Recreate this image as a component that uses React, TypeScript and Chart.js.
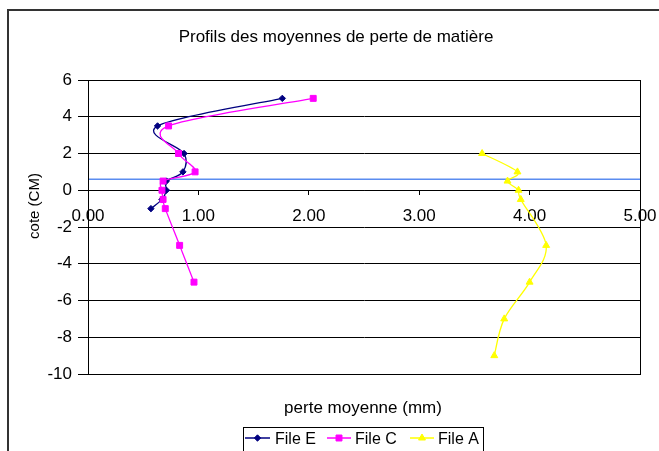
import React, { useEffect, useRef } from 'react';
import { Chart, registerables } from 'chart.js';

Chart.register(...registerables);

const titleText = 'Profils des moyennes de perte de matière';
const xAxisTitle = 'perte moyenne (mm)';
const yAxisTitle = 'cote (CM)';
const seriesNames = ['File E', 'File C', 'File A'];
const seriesColors = ['#000080', '#FF00FF', '#FFFF00'];

const fileE_x = [1.76, 0.63, 0.87, 0.86, 0.71, 0.71, 0.67, 0.57];
const fileE_y = [5, 3.5, 2, 1, 0.5, 0, -0.5, -1];
const fileC_x = [2.04, 0.73, 0.82, 0.97, 0.68, 0.67, 0.68, 0.7, 0.83, 0.96];
const fileC_y = [5, 3.5, 2, 1, 0.5, 0, -0.5, -1, -3, -5];
const fileA_x = [3.57, 3.89, 3.8, 3.9, 3.92, 4.15, 4.0, 3.77, 3.68];
const fileA_y = [2, 1, 0.5, 0, -0.5, -3, -5, -7, -9];
const refLineX = [0, 5];
const refLineY = [0.6, 0.6];

const FONT = '"Liberation Sans", Arial, sans-serif';

const pts = (xs: number[], ys: number[]) => xs.map((x, i) => ({ x, y: ys[i] }));

function drawMarker(ctx: CanvasRenderingContext2D, kind: string, x: number, y: number, r: number, color: string) {
  ctx.save();
  ctx.fillStyle = color;
  ctx.strokeStyle = color;
  ctx.lineWidth = 1;
  ctx.beginPath();
  if (kind === 'diamond') {
    ctx.moveTo(x, y - r);
    ctx.lineTo(x + r, y);
    ctx.lineTo(x, y + r);
    ctx.lineTo(x - r, y);
    ctx.closePath();
  } else if (kind === 'square') {
    const s = r * Math.SQRT1_2;
    ctx.rect(x - s, y - s, 2 * s, 2 * s);
  } else {
    ctx.moveTo(x, y - r);
    ctx.lineTo(x + r * 0.866, y + r / 2);
    ctx.lineTo(x - r * 0.866, y + r / 2);
    ctx.closePath();
  }
  ctx.fill();
  ctx.stroke();
  ctx.restore();
}

// Excel-like smoothing (uniform Catmull-Rom control points) on the points Chart.js placed
const smoothing = {
  id: 'excelSmoothing',
  beforeDatasetDraw(chart: any, args: any) {
    const meta = args.meta;
    const ds = chart.data.datasets[args.index];
    if (!ds || !ds.excelSmooth || !meta.dataset) return;
    const line = meta.dataset;
    if (typeof line.updateControlPoints === 'function') {
      line.updateControlPoints(chart.chartArea, 'x');
    }
    const p = line.points || meta.data;
    const n = p.length;
    for (let i = 0; i < n; i++) {
      const p0 = p[Math.max(i - 1, 0)];
      const p1 = p[i];
      const p2 = p[Math.min(i + 1, n - 1)];
      const dx = (p2.x - p0.x) / 6;
      const dy = (p2.y - p0.y) / 6;
      p1.cp1x = p1.x - dx;
      p1.cp1y = p1.y - dy;
      p1.cp2x = p1.x + dx;
      p1.cp2y = p1.y + dy;
    }
  },
};

const decor = {
  id: 'decor',
  beforeDraw(chart: any) {
    const { ctx, width, height } = chart;
    ctx.save();
    ctx.fillStyle = '#ffffff';
    ctx.fillRect(0, 0, width, height);
    ctx.restore();
  },
  afterDraw(chart: any) {
    const ctx: CanvasRenderingContext2D = chart.ctx;
    const a = chart.chartArea;
    ctx.save();
    // plot area border
    ctx.strokeStyle = '#000';
    ctx.lineWidth = 1;
    ctx.strokeRect(Math.round(a.left) + 0.5, Math.round(a.top) + 0.5, Math.round(a.right - a.left), Math.round(a.bottom - a.top));
    // outer chart border
    ctx.strokeStyle = '#333';
    ctx.lineWidth = 2;
    ctx.beginPath();
    ctx.moveTo(8, 470);
    ctx.lineTo(8, 10);
    ctx.lineTo(700, 10);
    ctx.stroke();

    ctx.fillStyle = '#000';
    ctx.textBaseline = 'alphabetic';
    ctx.textAlign = 'center';
    // title
    ctx.font = `17px ${FONT}`;
    ctx.fillText(titleText, 336, 42);
    // x axis title
    ctx.font = `17px ${FONT}`;
    ctx.fillText(xAxisTitle, 363, 413);
    // y axis title
    ctx.save();
    ctx.translate(39, 206);
    ctx.rotate(-Math.PI / 2);
    ctx.font = `15px ${FONT}`;
    ctx.fillText(yAxisTitle, 0, 0);
    ctx.restore();

    // legend
    ctx.strokeStyle = '#000';
    ctx.lineWidth = 1;
    ctx.strokeRect(243.5, 427.5, 240, 40);
    const items = [
      { x0: 245, x1: 270, tx: 275, kind: 'diamond', r: 3.2 },
      { x0: 327, x1: 351, tx: 355, kind: 'square', r: 4.2 },
      { x0: 410, x1: 434, tx: 438, kind: 'triangle', r: 4 },
    ];
    ctx.font = `16px ${FONT}`;
    ctx.textAlign = 'left';
    items.forEach((it, i) => {
      const ly = 438;
      ctx.strokeStyle = seriesColors[i];
      ctx.lineWidth = 1.5;
      ctx.beginPath();
      ctx.moveTo(it.x0, ly);
      ctx.lineTo(it.x1, ly);
      ctx.stroke();
      drawMarker(ctx, it.kind, (it.x0 + it.x1) / 2, ly, it.r, seriesColors[i]);
      ctx.fillStyle = '#000';
      ctx.fillText(seriesNames[i], it.tx, 444);
    });
    ctx.restore();
  },
};

export default function App() {
  const ref = useRef<HTMLCanvasElement | null>(null);
  useEffect(() => {
    if (!ref.current) return;
    const tickFont = { family: FONT, size: 17 };
    const chart = new Chart(ref.current, {
      type: 'scatter',
      data: {
        datasets: [
          {
            label: seriesNames[0],
            data: pts(fileE_x, fileE_y),
            showLine: true,
            tension: 0.4,
            excelSmooth: true,
            borderColor: seriesColors[0],
            backgroundColor: seriesColors[0],
            borderWidth: 1.3,
            pointStyle: 'rectRot',
            pointRadius: 3.2,
            pointBorderWidth: 1,
            order: 3,
          },
          {
            label: seriesNames[1],
            data: pts(fileC_x, fileC_y),
            showLine: true,
            tension: 0.4,
            excelSmooth: true,
            borderColor: seriesColors[1],
            backgroundColor: seriesColors[1],
            borderWidth: 1.3,
            pointStyle: 'rect',
            pointRadius: 4.2,
            pointBorderWidth: 1,
            order: 2,
          },
          {
            label: seriesNames[2],
            data: pts(fileA_x, fileA_y),
            showLine: true,
            tension: 0.4,
            excelSmooth: true,
            borderColor: seriesColors[2],
            backgroundColor: seriesColors[2],
            borderWidth: 1.3,
            pointStyle: 'triangle',
            pointRadius: 4,
            pointBorderWidth: 1,
            order: 1,
          },
          {
            label: 'ref',
            data: pts(refLineX, refLineY),
            showLine: true,
            tension: 0,
            borderColor: '#5A8CF0',
            backgroundColor: '#5A8CF0',
            borderWidth: 1.3,
            pointRadius: 0,
            order: 4,
          },
        ],
      },
      options: {
        animation: false,
        responsive: false,
        events: [],
        layout: { padding: { top: 80, right: 19, bottom: 77, left: 0 } },
        plugins: {
          legend: { display: false },
          title: { display: false },
          tooltip: { enabled: false },
        },
        scales: {
          x: {
            type: 'linear',
            position: { y: 0 } as any,
            min: 0,
            max: 5,
            ticks: {
              stepSize: 1,
              autoSkip: false,
              maxRotation: 0,
              padding: 12,
              color: '#000',
              font: tickFont,
              callback: (v: any) => Number(v).toFixed(2),
            },
            grid: { drawOnChartArea: false, drawTicks: true, tickLength: 4, color: '#000' },
            border: { display: true, color: '#000', width: 1 },
            afterFit: (s: any) => {
              s.height = 0;
              s.paddingLeft = 0;
              s.paddingRight = 0;
            },
          },
          y: {
            type: 'linear',
            position: 'left',
            min: -10,
            max: 6,
            ticks: {
              stepSize: 2,
              padding: 6,
              color: '#000',
              font: tickFont,
              callback: (v: any) => String(v),
            },
            grid: { color: '#000', tickLength: 10, lineWidth: 1 },
            border: { display: true, color: '#000', width: 1 },
            afterFit: (s: any) => {
              s.width = 88;
            },
          },
        },
      },
      plugins: [smoothing, decor],
    } as any);
    return () => chart.destroy();
  }, []);
  return (
    <div style={{ position: 'fixed', left: 0, top: 0, width: 659, height: 451, background: '#fff' }}>
      <canvas ref={ref} width={659} height={451} style={{ display: 'block', width: 659, height: 451 }} />
    </div>
  );
}
